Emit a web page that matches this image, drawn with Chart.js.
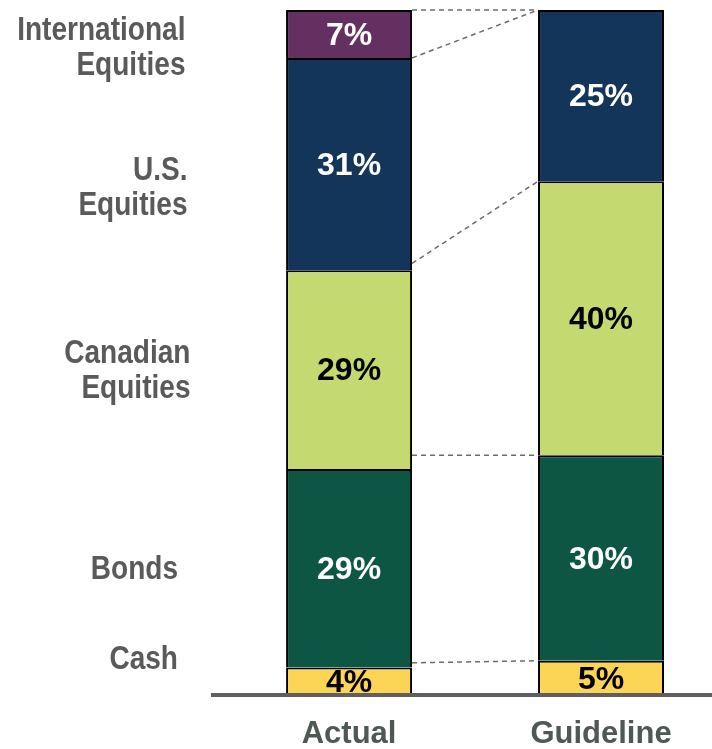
<!DOCTYPE html>
<html>
<head>
<meta charset="utf-8">
<script src="https://cdn.jsdelivr.net/npm/chart.js@4/dist/chart.umd.min.js"></script>
<style>
html,body{margin:0;padding:0;background:#fff;overflow:hidden}
#wrap{width:712px;height:749px;position:relative}
canvas{display:block}
</style>
</head>
<body>
<div id="wrap"><canvas id="c" width="712" height="749"></canvas></div>
<script>
// ---- data ----
const portfolios = ['Actual', 'Guideline'];
const assetClasses = ['Cash', 'Bonds', 'Canadian Equities', 'U.S. Equities', 'International Equities'];
const cashValues = [4, 5];
const bondValues = [29, 30];
const canadianValues = [29, 40];
const usValues = [31, 25];
const internationalValues = [7, 0];
const seriesValues = [cashValues, bondValues, canadianValues, usValues, internationalValues];
// level (in %) where each dashed connector leaves the Actual bar, as drawn in the source
const connectorActualLevels = [4.7, 35, 63, 93, 100];

// ---- styles ----
const fillColors = ['#fdd556', '#0d5643', '#c4da71', '#14355a', '#642f61'];
const valueTextColors = ['#000000', '#ffffff', '#000000', '#ffffff', '#ffffff'];
const FONT = "'Liberation Sans', Arial, Helvetica, sans-serif";

const datasets = assetClasses.map((name, i) => ({
  label: name,
  data: seriesValues[i].map((v, j) => ({ x: j, y: v })),
  backgroundColor: fillColors[i],
  borderColor: '#000000',
  borderWidth: { top: 2, left: 2, right: 2, bottom: 0 },
  borderSkipped: false,
  categoryPercentage: 1,
  barPercentage: 0.5
}));

const overlayPlugin = {
  id: 'overlay',
  afterDatasetsDraw(chart) {
    const ctx = chart.ctx;
    const yScale = chart.scales.y;
    // dashed connectors between the bars
    ctx.save();
    ctx.setLineDash([5, 4]);
    ctx.strokeStyle = '#6b6b6b';
    ctx.lineWidth = 1.5;
    chart.data.datasets.forEach((ds, di) => {
      const bars = chart.getDatasetMeta(di).data;
      const a = bars[0], b = bars[1];
      ctx.beginPath();
      ctx.moveTo(a.x + a.width / 2, yScale.getPixelForValue(connectorActualLevels[di]));
      ctx.lineTo(b.x - b.width / 2, b.y);
      ctx.stroke();
    });
    ctx.restore();

    // value labels
    ctx.save();
    ctx.font = 'bold 32px ' + FONT;
    ctx.textAlign = 'center';
    ctx.textBaseline = 'middle';
    chart.data.datasets.forEach((ds, di) => {
      const bars = chart.getDatasetMeta(di).data;
      bars.forEach((bar, j) => {
        const v = seriesValues[di][j];
        if (!v) return;
        ctx.fillStyle = valueTextColors[di];
        ctx.fillText(v + '%', bar.x, (bar.y + bar.base) / 2 + 2);
      });
    });
    ctx.restore();
  },
  afterDraw(chart) {
    // category labels on the left, beside the Actual bar segments
    const ctx = chart.ctx;
    const nudgeY = [-21, 2, 2, 24.5, 14];
    const rightX = [178, 178, 190.5, 187.5, 185.5];
    const lineGap = 35;
    ctx.save();
    ctx.font = 'bold 33px ' + FONT;
    ctx.fillStyle = '#5a5a5a';
    ctx.textAlign = 'right';
    ctx.textBaseline = 'middle';
    assetClasses.forEach((name, di) => {
      const bar = chart.getDatasetMeta(di).data[0];
      const cy = (bar.y + bar.base) / 2 + nudgeY[di];
      const lines = name.split(' ');
      lines.forEach((line, k) => {
        const y = cy + (k - (lines.length - 1) / 2) * lineGap;
        ctx.save();
        ctx.translate(rightX[di], y);
        ctx.scale(0.85, 1);
        ctx.fillText(line, 0, 0);
        ctx.restore();
      });
    });
    ctx.restore();
  }
};

new Chart(document.getElementById('c'), {
  type: 'bar',
  data: { datasets },
  plugins: [overlayPlugin],
  options: {
    responsive: false,
    animation: false,
    devicePixelRatio: 1,
    layout: { padding: { left: 213, top: 10, right: 0, bottom: 0 } },
    plugins: { legend: { display: false }, tooltip: { enabled: false } },
    scales: {
      x: {
        type: 'linear',
        stacked: true,
        offset: false,
        min: -0.54,
        max: 1.4405,
        grid: { display: false, drawTicks: false, tickLength: 0 },
        border: { display: true, color: '#5f5f5f', width: 4, z: 1 },
        afterBuildTicks: (s) => { s.ticks = portfolios.map((_, i) => ({ value: i })); },
        afterFit: (s) => { s.height = 54; },
        ticks: {
          autoSkip: false,
          maxRotation: 0,
          padding: 21,
          color: '#4e5953',
          font: { family: FONT, size: 31, weight: 'bold' },
          callback: (v) => portfolios[v]
        }
      },
      y: { display: false, stacked: true, min: 0, max: 100 }
    }
  }
});
</script>
</body>
</html>
